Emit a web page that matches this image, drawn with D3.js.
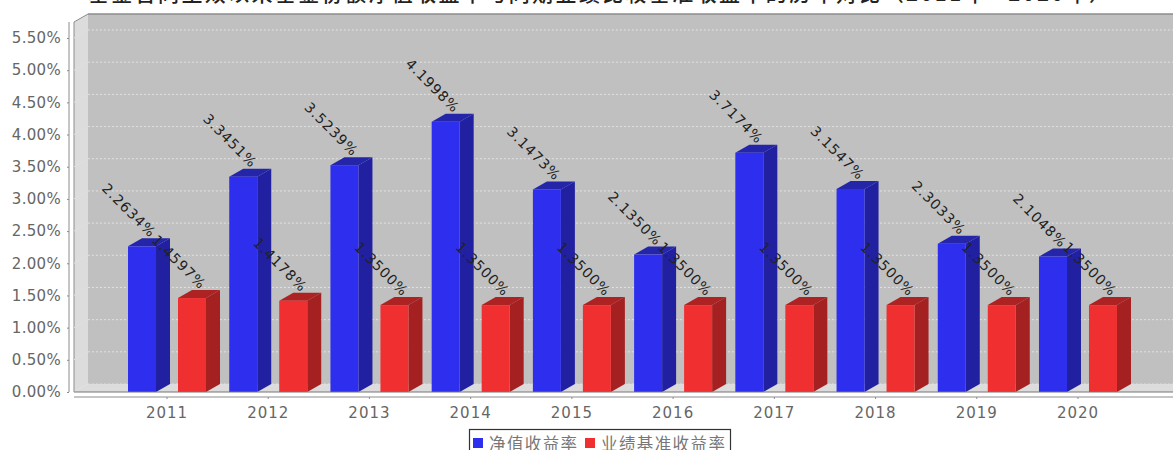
<!DOCTYPE html>
<html>
<head>
<meta charset="utf-8">
<script src="https://cdn.jsdelivr.net/npm/d3@7"></script>
<style>
  html, body { margin: 0; padding: 0; background: #fff; overflow: hidden; }
  svg { display: block; }
  text { font-family: "DejaVu Sans", sans-serif; }
</style>
</head>
<body>
<div id="chart"></div>
<script>
let years = ["2011","2012","2013","2014","2015","2016","2017","2018","2019","2020"];
let navReturn = [2.2634,3.3451,3.5239,4.1998,3.1473,2.1350,3.7174,3.1547,2.3033,2.1048];
let benchReturn = [1.4597,1.4178,1.3500,1.3500,1.3500,1.3500,1.3500,1.3500,1.3500,1.3500];
let seriesNames = ["净值收益率","业绩基准收益率"];
let yTicks = [0,0.5,1,1.5,2,2.5,3,3.5,4,4.5,5,5.5];
let titleText = "基金合同生效以来基金份额净值收益率与同期业绩比较基准收益率的历年对比（2011年—2020年）";

let width = 1173, height = 450;
let depthX = 14, depthY = 8;
let plotLeft = 74, plotRight = 1173, plotTop = 22, baseY = 392;

let frontColor = ["#2e2eee","#f03030"];
let sideColor = ["#2020a0","#a52020"];
let topColor = ["#2525aa","#ad2222"];

let svg = d3.select("#chart").append("svg")
    .attr("width", width)
    .attr("height", height);

let x = d3.scaleBand().domain(years).range([116.4, 1128.6]);
let xSeries = d3.scaleBand().domain(seriesNames).range([-39, 39]).paddingInner(0.44);
let y = d3.scaleLinear().domain([0, 5.5]).range([baseY, 38]);

// title, cropped by the top of the window like the source picture
svg.append("text")
    .attr("x", 88)
    .attr("y", 0.5)
    .attr("textLength", 1022)
    .attr("lengthAdjust", "spacing")
    .style("font-family", '"Noto Sans CJK SC"')
    .style("font-size", "21px")
    .style("font-weight", "500")
    .style("fill", "#222")
    .text(titleText);

// walls and floor
let poly = pts => "M" + pts.map(p => p.join(",")).join("L") + "Z";
svg.append("path")
    .attr("d", poly([[plotLeft+depthX,plotTop-depthY],[plotRight,plotTop-depthY],[plotRight,baseY-depthY],[plotLeft+depthX,baseY-depthY]]))
    .attr("fill", "#c0c0c0");
svg.append("path")
    .attr("d", poly([[plotLeft,plotTop],[plotLeft+depthX,plotTop-depthY],[plotLeft+depthX,baseY-depthY],[plotLeft,baseY]]))
    .attr("fill", "#dcdcdc");
svg.append("path")
    .attr("d", poly([[plotLeft,baseY],[plotLeft+depthX,baseY-depthY],[plotRight,baseY-depthY],[plotRight,baseY]]))
    .attr("fill", "#dcdcdc");
svg.append("line")
    .attr("x1", plotLeft+depthX).attr("x2", plotRight)
    .attr("y1", plotTop-depthY).attr("y2", plotTop-depthY)
    .attr("stroke", "#8c8c8c").attr("stroke-width", 1.5);
svg.append("line")
    .attr("x1", plotLeft).attr("x2", plotLeft+depthX)
    .attr("y1", plotTop).attr("y2", plotTop-depthY)
    .attr("stroke", "#8c8c8c");
svg.append("line")
    .attr("x1", plotLeft).attr("x2", plotLeft)
    .attr("y1", plotTop).attr("y2", baseY)
    .attr("stroke", "#8c8c8c");

// dashed grid on the back wall, with the slant on the side wall
let grid = svg.append("g").attr("fill", "none")
    .attr("stroke", "#e2e2e2").attr("stroke-dasharray", "2,2");
grid.selectAll("path")
  .data(yTicks)
  .enter().append("path")
    .attr("d", d => `M${plotLeft},${y(d)}L${plotLeft+depthX},${y(d)-depthY}L${plotRight},${y(d)-depthY}`);

// bars
let rows = [];
years.forEach((yr, i) => {
  rows.push({year: yr, s: 0, value: navReturn[i]});
  rows.push({year: yr, s: 1, value: benchReturn[i]});
});
let barLeft = d => x(d.year) + x.bandwidth()/2 + xSeries(seriesNames[d.s]);
let bw = xSeries.bandwidth();

let bars = svg.append("g").selectAll("g")
  .data(rows)
  .enter().append("g");

bars.append("path")
    .attr("fill", d => sideColor[d.s])
    .attr("d", d => {
      let a = barLeft(d) + bw, t = y(d.value);
      return poly([[a,t],[a+depthX,t-depthY],[a+depthX,baseY-depthY],[a,baseY]]);
    });
bars.append("path")
    .attr("fill", d => topColor[d.s])
    .attr("d", d => {
      let a = barLeft(d), t = y(d.value);
      return poly([[a,t],[a+depthX,t-depthY],[a+bw+depthX,t-depthY],[a+bw,t]]);
    });
bars.append("rect")
    .attr("fill", d => frontColor[d.s])
    .attr("x", d => barLeft(d))
    .attr("y", d => y(d.value))
    .attr("width", bw)
    .attr("height", d => baseY - y(d.value));

// floor front edge
svg.append("line")
    .attr("x1", plotLeft).attr("x2", plotRight)
    .attr("y1", baseY).attr("y2", baseY)
    .attr("stroke", "#777");

// value labels at 45 degrees
svg.append("g").selectAll("text")
  .data(rows)
  .enter().append("text")
    .attr("text-anchor", "end")
    .attr("transform", d => `translate(${barLeft(d)+bw/2+8},${y(d.value)-8}) rotate(45)`)
    .style("font-size", "14px")
    .style("letter-spacing", "1px")
    .style("fill", "#222")
    .text(d => d.value.toFixed(4) + "%");

// axes
let yAxis = svg.append("g")
    .attr("transform", "translate(69,0)")
    .call(d3.axisLeft(y).tickValues(yTicks).tickFormat(d => d.toFixed(2) + "%").tickSize(2).tickSizeOuter(0).tickPadding(6));
yAxis.select(".domain").remove();
yAxis.append("line").attr("y1", plotTop).attr("y2", baseY).attr("stroke", "#8c8c8c");

let xAxis = svg.append("g")
    .attr("transform", "translate(0,397)")
    .call(d3.axisBottom(x).tickSize(2).tickSizeOuter(0).tickPadding(8));
xAxis.select(".domain").remove();
xAxis.append("line").attr("x1", plotLeft).attr("x2", plotRight).attr("stroke", "#8c8c8c");

svg.selectAll(".tick line").attr("stroke", "#8c8c8c");
svg.selectAll(".tick text")
    .style("font-family", '"DejaVu Sans"')
    .style("font-size", "15px")
    .style("fill", "#666");
xAxis.selectAll(".tick text").style("letter-spacing", "1px");
yAxis.selectAll(".tick text").style("letter-spacing", "0.3px");

// legend, cut off by the bottom of the window
let legend = svg.append("g");
legend.append("rect")
    .attr("x", 469.5).attr("y", 429.5)
    .attr("width", 261).attr("height", 30)
    .attr("fill", "#fff").attr("stroke", "#333").attr("stroke-width", 1.2);
let legendX = [473, 585];
seriesNames.forEach((name, i) => {
  legend.append("rect")
      .attr("x", legendX[i]).attr("y", 438)
      .attr("width", 10).attr("height", 10)
      .attr("fill", frontColor[i]);
  legend.append("text")
      .attr("x", legendX[i] + 16).attr("y", 450)
      .style("font-family", '"Noto Sans CJK SC"')
      .style("font-size", "16.5px")
      .style("letter-spacing", "1.4px")
      .style("fill", "#777")
      .text(name);
});
</script>
</body>
</html>
